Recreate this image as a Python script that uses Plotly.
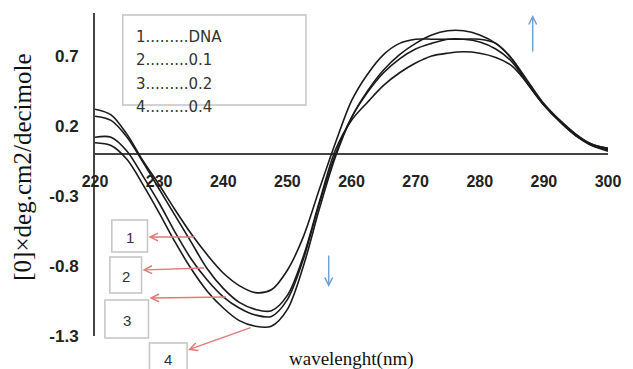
import plotly.graph_objects as go

wavelength = [220, 222.5, 225, 227.5, 230, 232.5, 235, 237.5, 240, 242.5, 245, 247.5, 250,
              252.5, 255, 257.5, 260, 262.5, 265, 267.5, 270, 272.5, 275, 277.5, 280, 282.5,
              285, 287.5, 290, 292.5, 295, 297.5, 300]
curve1 = [0.32, 0.28, 0.14, -0.05, -0.22, -0.40, -0.57, -0.72, -0.85, -0.94, -0.99, -0.97, -0.83,
          -0.59, -0.25, 0.08, 0.38, 0.57, 0.71, 0.79, 0.82, 0.82, 0.82, 0.82, 0.82, 0.79,
          0.68, 0.50, 0.35, 0.23, 0.13, 0.06, 0.03]
curve2 = [0.27, 0.24, 0.12, -0.06, -0.25, -0.44, -0.63, -0.82, -0.96, -1.06, -1.11, -1.12, -1.01,
          -0.73, -0.34, 0.03, 0.24, 0.37, 0.49, 0.58, 0.65, 0.70, 0.72, 0.73, 0.72, 0.69,
          0.63, 0.50, 0.35, 0.23, 0.13, 0.07, 0.04]
curve3 = [0.12, 0.12, 0.02, -0.16, -0.35, -0.56, -0.75, -0.90, -1.02, -1.10, -1.15, -1.16, -1.04,
          -0.75, -0.35, 0.00, 0.26, 0.44, 0.58, 0.68, 0.75, 0.79, 0.82, 0.82, 0.80, 0.75,
          0.66, 0.50, 0.35, 0.24, 0.14, 0.06, 0.02]
curve4 = [0.08, 0.06, -0.04, -0.22, -0.42, -0.63, -0.82, -0.98, -1.10, -1.19, -1.23, -1.23, -1.11,
          -0.80, -0.39, -0.02, 0.26, 0.45, 0.60, 0.71, 0.79, 0.85, 0.88, 0.88, 0.85, 0.79,
          0.68, 0.52, 0.36, 0.24, 0.14, 0.07, 0.04]

x_ticks = [220, 230, 240, 250, 260, 270, 280, 290, 300]
y_ticks = [0.7, 0.2, -0.3, -0.8, -1.3]
y_ticktext = ["0.7", "0.2", "-0.3", "-0.8", "-1.3"]
legend_lines = ["1.........DNA", "2.........0.1", "3.........0.2", "4.........0.4"]
box_labels = ["1", "2", "3", "4"]

W, H = 633, 369
ML, MR, MT, MB = 95, 20, 13, 33
PW, PH = W - ML - MR, H - MT - MB
Y0, Y1 = -1.30, 1.007


def fx(px):
    return (px - ML) / PW


def fy(py):
    return (H - MB - py) / PH


fig = go.Figure()
for c in [curve1, curve2, curve3, curve4]:
    fig.add_trace(go.Scatter(x=wavelength, y=c, mode="lines",
                             line=dict(color="#1a1a1a", width=1.6, shape="spline", smoothing=0.9),
                             showlegend=False, hoverinfo="skip"))

fig.update_layout(
    width=W, height=H, margin=dict(l=ML, r=MR, t=MT, b=MB),
    paper_bgcolor="white", plot_bgcolor="white", showlegend=False,
    xaxis=dict(range=[220, 300], tickvals=x_ticks, showgrid=False, zeroline=False,
               showline=False, anchor="free", position=(0 - Y0) / (Y1 - Y0),
               ticks="outside", ticklen=0, ticklabelstandoff=13,
               tickfont=dict(family="Liberation Sans", size=16, color="#222", weight="bold")),
    yaxis=dict(range=[Y0, Y1], tickvals=y_ticks, ticktext=y_ticktext, showgrid=False,
               zeroline=True, zerolinecolor="#444", zerolinewidth=2,
               showline=True, linecolor="#444", linewidth=2,
               ticks="outside", ticklen=0, ticklabelstandoff=11,
               tickfont=dict(family="Liberation Sans", size=17, color="#222", weight="bold")),
)

shapes = []
anns = []
# legend box
shapes.append(dict(type="rect", xref="paper", yref="paper", x0=fx(123), x1=fx(308), y0=fy(105), y1=fy(15),
                   line=dict(color="#c4c4c4", width=1.5), fillcolor="rgba(255,255,255,0)", layer="below"))
for i, t in enumerate(legend_lines):
    anns.append(dict(xref="paper", yref="paper", x=fx(134), y=fy(37 + i * 23.3), text=t, showarrow=False,
                     xanchor="left", yanchor="middle",
                     font=dict(family="DejaVu Sans", size=15, color="#333")))

# numbered boxes
boxes = [(112, 220, 148, 252), (110, 257, 142, 293), (105, 300, 149, 338), (150, 343, 188, 372)]
for (x0, y0, x1, y1), lab in zip(boxes, box_labels):
    shapes.append(dict(type="rect", xref="paper", yref="paper", x0=fx(x0), x1=fx(x1), y0=fy(y1), y1=fy(y0),
                       line=dict(color="#c4c4c4", width=1.5)))
    cy = (y0 + y1) / 2 + 1 if lab != "4" else 359
    anns.append(dict(xref="paper", yref="paper", x=fx((x0 + x1) / 2), y=fy(cy), text=lab,
                     showarrow=False, xanchor="center", yanchor="middle",
                     font=dict(family="Liberation Sans", size=15, color="#333")))

# red arrows (head, tail)
red = [((149, 237), (196, 237)), ((143, 270), (206, 268)), ((150, 298), (228, 297)), ((189, 350), (253, 327))]
for (hx, hy), (tx, ty) in red:
    anns.append(dict(xref="paper", yref="paper", x=fx(hx), y=fy(hy), ax=tx - hx, ay=ty - hy,
                     axref="pixel", ayref="pixel", text="", showarrow=True,
                     arrowhead=5, arrowsize=1.1, arrowwidth=1.4, arrowcolor="#e07a78"))
# blue arrows
blue = [((331, 287), (331, 254)), ((537, 15), (537, 53))]
for (hx, hy), (tx, ty) in blue:
    anns.append(dict(xref="paper", yref="paper", x=fx(hx), y=fy(hy), ax=tx - hx, ay=ty - hy,
                     axref="pixel", ayref="pixel", text="", showarrow=True,
                     arrowhead=5, arrowsize=1.1, arrowwidth=1.4, arrowcolor="#6d9fd6"))

# axis titles
anns.append(dict(xref="paper", yref="paper", x=fx(354), y=fy(359), text="wavelenght(nm)", showarrow=False,
                 xanchor="center", yanchor="middle",
                 font=dict(family="Liberation Serif", size=19, color="#111")))
anns.append(dict(xref="paper", yref="paper", x=fx(22), y=fy(167), text="[0]×deg.cm2/decimole",
                 showarrow=False, textangle=-90, xanchor="center", yanchor="middle",
                 font=dict(family="Liberation Serif", size=25, color="#111")))

fig.update_layout(shapes=shapes, annotations=anns)
fig.write_html("out.html", config={"displayModeBar": False},
               post_script="document.body.style.margin='0';document.body.style.overflow='hidden';")
